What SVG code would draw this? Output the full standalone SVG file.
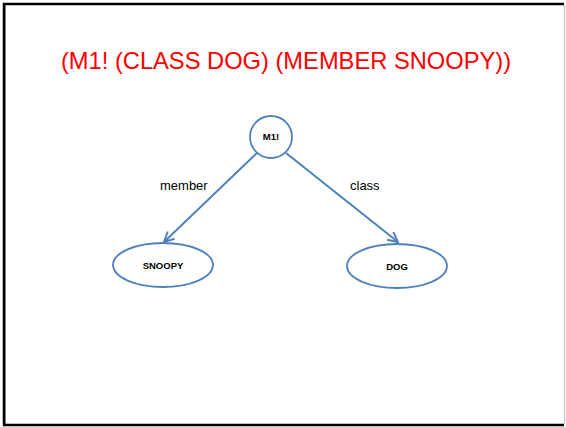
<svg xmlns="http://www.w3.org/2000/svg" width="566" height="427" viewBox="0 0 566 427">
<defs>
<style>
.node{fill:#fff;stroke:#4f81bd;stroke-width:1.8}
.nl{font-family:"Liberation Sans",Arial,sans-serif;font-size:9.5px;font-weight:bold;fill:#000;text-anchor:middle}
.el{font-family:"Liberation Sans",Arial,sans-serif;font-size:13px;fill:#000}
.edge{stroke:#4f81bd;stroke-width:2;fill:none}
</style>
<marker id="arr" viewBox="0 0 12 12" refX="11" refY="6" markerWidth="12" markerHeight="12" markerUnits="userSpaceOnUse" orient="auto">
<path d="M1,1 L11,6 L1,11" fill="none" stroke="#4f81bd" stroke-width="2"/>
</marker>
</defs>
<rect x="0" y="0" width="566" height="427" fill="#fff"/>
<line x1="5.5" y1="5" x2="5.5" y2="424" stroke="#aaa" stroke-width="1"/>
<line x1="564.5" y1="5" x2="564.5" y2="424" stroke="#ccc" stroke-width="1.5"/>
<path d="M4,425 L4,4 L564,4" fill="none" stroke="#000" stroke-width="2.5"/>
<line x1="3" y1="425" x2="564" y2="425" stroke="#000" stroke-width="2.5"/>
<text x="286" y="69" font-family="'Liberation Sans',Arial,sans-serif" font-size="23.7" fill="#ff0000" text-anchor="middle">(M1! (CLASS DOG) (MEMBER SNOOPY))</text>
<g id="connectors">
<line class="edge" x1="257" y1="153" x2="164" y2="242" marker-end="url(#arr)"/>
<line class="edge" x1="286" y1="153" x2="398" y2="242" marker-end="url(#arr)"/>
<text class="el" x="160" y="190">member</text>
<text class="el" x="350" y="190">class</text>
</g>
<g id="M1">
<circle class="node" cx="271" cy="137" r="21"/>
<text class="nl" x="271" y="140">M1!</text>
</g>
<g id="SNOOPY">
<ellipse class="node" cx="163" cy="265" rx="50" ry="22"/>
<text class="nl" x="163" y="269">SNOOPY</text>
</g>
<g id="DOG">
<ellipse class="node" cx="397" cy="266" rx="50" ry="22"/>
<text class="nl" x="397" y="270">DOG</text>
</g>
</svg>
